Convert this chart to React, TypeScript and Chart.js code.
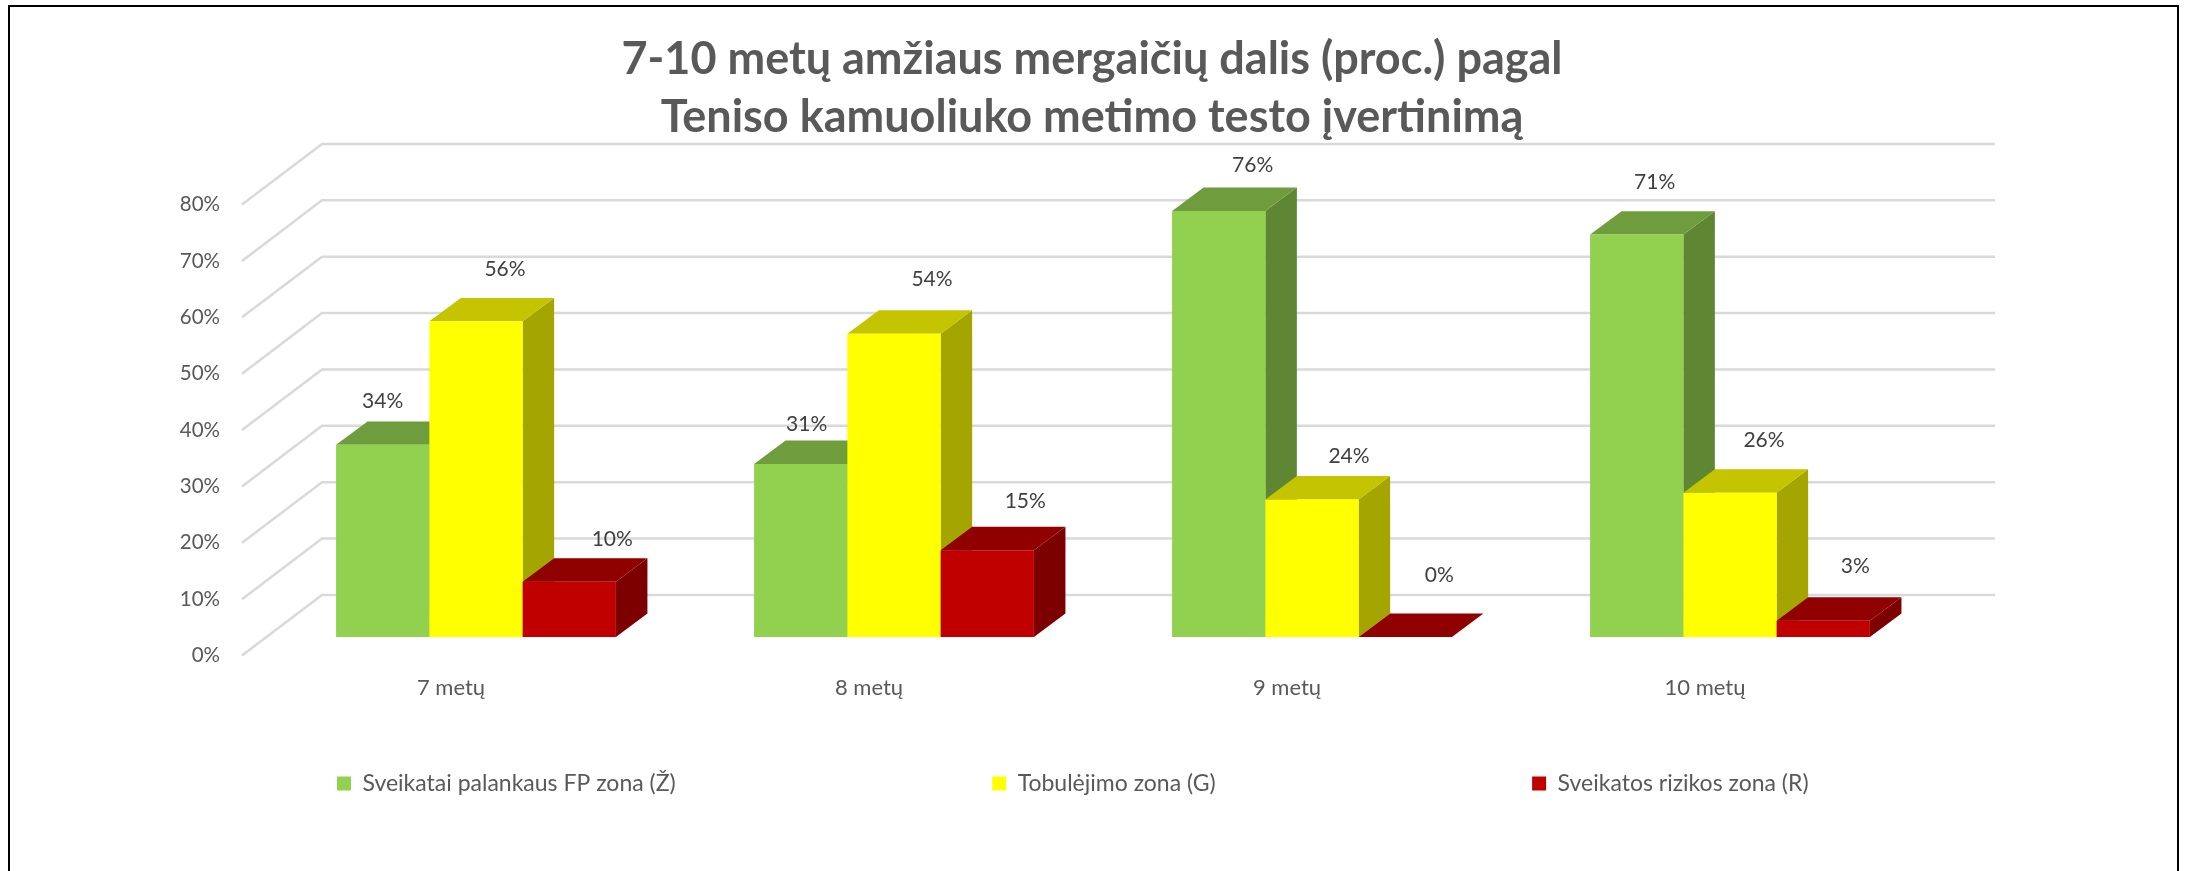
import React, { useEffect, useRef } from "react";
import { Chart, registerables } from "chart.js";

Chart.register(...registerables);

const categories = ["7 metų", "8 metų", "9 metų", "10 metų"];
const seriesNames = ["Sveikatai palankaus FP zona (Ž)", "Tobulėjimo zona (G)", "Sveikatos rizikos zona (R)"];
const greenValues = [34.1, 30.7, 75.6, 71.4];
const yellowValues = [56.0, 53.8, 24.4, 25.6];
const redValues = [9.8, 15.4, 0, 2.9];
const titleLines = ["7-10 metų amžiaus mergaičių dalis (proc.) pagal", "Teniso kamuoliuko metimo testo įvertinimą"];

const faces = [
  { front: "#92D050", top: "#6F9D3D", side: "#5F8632" },
  { front: "#FFFF00", top: "#C4C400", side: "#A5A500" },
  { front: "#C00000", top: "#900000", side: "#7D0000" },
];
// label offset from the top-centre of each front face, per series and category
const labelOffsets = [
  [[0, -44], [6, -40], [34, -46], [18, -52]],
  [[29, -52], [38, -55], [37, -43], [34, -52]],
  [[43, -43], [38, -49], [34, -62], [32, -54]],
];

const WALL = { dx: 80, dy: -60.6 };
const PLANE = { dx: 25, dy: -18.5 };
const BAR_DEPTH = { dx: 31.5, dy: -23.4 };
const LEGEND_PADDING = 316.5;

const poly = (ctx: any, color: string, pts: number[][]) => {
  ctx.fillStyle = color;
  ctx.beginPath();
  pts.forEach((p, i) => (i ? ctx.lineTo(p[0], p[1]) : ctx.moveTo(p[0], p[1])));
  ctx.closePath();
  ctx.fill();
};

const scene3d = {
  id: "scene3d",
  afterLayout(chart: any) {
    chart.legend.left = 337 - LEGEND_PADDING;
    chart.legend.right = 2188;
    chart.legend.top = 772 - LEGEND_PADDING;
    chart.legend.bottom = 871;
    chart.titleBlock.left = 0;
    chart.titleBlock.right = 2184;
  },
  beforeDatasetsDraw(chart: any) {
    const { ctx, chartArea: a } = chart;
    const y = chart.scales.y;
    ctx.save();
    ctx.strokeStyle = "#D9D9D9";
    ctx.lineWidth = 2.5;
    y.ticks.forEach((t: any) => {
      const py = y.getPixelForValue(t.value);
      ctx.beginPath();
      ctx.moveTo(a.left, py);
      ctx.lineTo(a.left + WALL.dx, py + WALL.dy);
      ctx.lineTo(a.right + WALL.dx + 1, py + WALL.dy);
      ctx.stroke();
    });
    ctx.restore();
    // left-to-right painter's order, so each bar's front covers its neighbour's side
    chart.data.datasets.forEach((_: any, i: number) => {
      const meta = chart.getDatasetMeta(i);
      const f = faces[i];
      ctx.save();
      ctx.translate(PLANE.dx, PLANE.dy);
      meta.data.forEach((b: any) => {
        const l = b.x - b.width / 2;
        const r = b.x + b.width / 2;
        const d = BAR_DEPTH;
        poly(ctx, f.side, [[r, b.y], [r + d.dx, b.y + d.dy], [r + d.dx, b.base + d.dy], [r, b.base]]);
        poly(ctx, f.top, [[l, b.y], [l + d.dx, b.y + d.dy], [r + d.dx, b.y + d.dy], [r, b.y]]);
      });
      meta.controller.draw();
      ctx.restore();
    });
    return false;
  },
  afterDraw(chart: any) {
    const { ctx, data } = chart;
    ctx.save();
    ctx.font = "21px Lato";
    ctx.fillStyle = "#404040";
    ctx.textAlign = "center";
    ctx.textBaseline = "middle";
    data.datasets.forEach((ds: any, i: number) => {
      chart.getDatasetMeta(i).data.forEach((b: any, j: number) => {
        const o = labelOffsets[i][j];
        ctx.fillText(`${Math.round(ds.data[j])}%`, b.x + PLANE.dx + o[0], b.y + PLANE.dy + o[1]);
      });
    });
    ctx.restore();
  },
};

export default function App() {
  const ref = useRef<HTMLCanvasElement>(null);
  useEffect(() => {
    document.body.style.margin = "0";
    document.body.style.background = "#fff";
    const chart = new Chart(ref.current as HTMLCanvasElement, {
      type: "bar",
      plugins: [scene3d],
      data: {
        labels: categories,
        datasets: [greenValues, yellowValues, redValues].map((values, i) => ({
          label: seriesNames[i],
          data: values,
          backgroundColor: faces[i].front,
          borderWidth: 0,
          categoryPercentage: 0.6695,
          barPercentage: 1,
        })),
      },
      options: {
        responsive: false,
        animation: false,
        events: [],
        layout: { padding: { left: 0, right: 274, top: 0, bottom: 155.5 } },
        plugins: {
          tooltip: { enabled: false },
          title: {
            display: true,
            text: titleLines,
            color: "#595959",
            font: { family: "Lato", size: 45, weight: "bold", lineHeight: "58px" },
            padding: { top: 30, bottom: 58.6 },
          },
          legend: {
            position: "bottom",
            align: "start",
            maxHeight: 10,
            labels: {
              boxWidth: 14,
              boxHeight: 14,
              padding: LEGEND_PADDING,
              color: "#595959",
              font: { family: "Lato", size: 23 },
            },
          },
        },
        scales: {
          x: {
            grid: { display: false },
            border: { display: false },
            afterFit: (s: any) => {
              s.height = 50;
            },
            ticks: { color: "#595959", font: { family: "Lato", size: 22 }, padding: 11, maxRotation: 0 },
          },
          y: {
            min: 0,
            max: 80,
            grid: { display: false },
            border: { display: false },
            afterFit: (s: any) => {
              s.width = 242;
            },
            ticks: {
              stepSize: 10,
              color: "#595959",
              font: { family: "Lato", size: 20.5 },
              padding: 14,
              callback: (v: any) => `${v}%`,
            },
          },
        },
      } as any,
    });
    return () => chart.destroy();
  }, []);
  return (
    <div style={{ position: "absolute", left: 0, top: 0, width: 2188, height: 871, overflow: "hidden" }}>
      <div
        style={{
          position: "absolute",
          left: 8,
          top: 5,
          width: 2167,
          height: 880,
          borderLeft: "2px solid #000",
          borderTop: "2px solid #000",
          borderRight: "2px solid #000",
        }}
      />
      <canvas ref={ref} width={2188} height={871} style={{ position: "absolute", left: 0, top: 0, display: "block" }} />
    </div>
  );
}
